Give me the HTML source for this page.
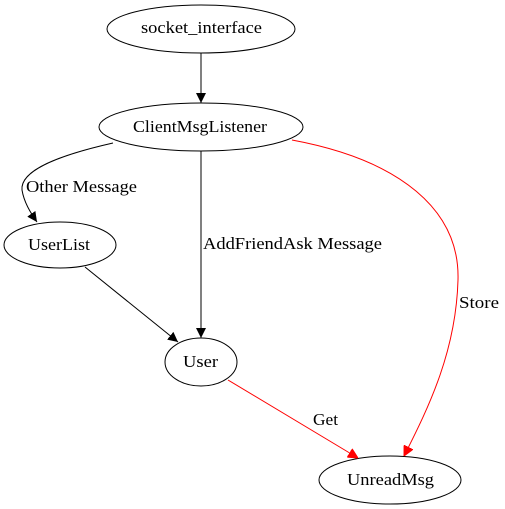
<!DOCTYPE html>
<html><head><meta charset="utf-8"><style>
html,body{margin:0;padding:0;background:#fff;}
svg{display:block;}
text{font-family:"Liberation Serif",serif;font-size:17px;fill:#000;}
</style></head><body>
<svg width="505" height="509" viewBox="0 0 505 509" xmlns="http://www.w3.org/2000/svg">
<defs>
<marker id="ab" markerWidth="10" markerHeight="10" refX="10" refY="5" orient="auto" markerUnits="userSpaceOnUse"><path d="M0,0 L10,5 L0,10 z" fill="#000"/></marker>
<marker id="ar" markerWidth="10" markerHeight="10" refX="10" refY="5" orient="auto" markerUnits="userSpaceOnUse"><path d="M0,0 L10,5 L0,10 z" fill="red" stroke="red"/></marker>
</defs>
<g fill="none" stroke="#000" stroke-width="1">
<ellipse cx="201" cy="29" rx="94" ry="24"/>
<ellipse cx="201" cy="127" rx="102" ry="24"/>
<ellipse cx="60" cy="245" rx="56" ry="23"/>
<ellipse cx="201" cy="362" rx="36" ry="24"/>
<ellipse cx="390" cy="480" rx="71" ry="24"/>
<path d="M201,53 L201,103" marker-end="url(#ab)"/>
<path d="M113,143 C60,155 20,170 22,190 C24,202 30,212 37,222" marker-end="url(#ab)"/>
<path d="M201,151 L201,338" marker-end="url(#ab)"/>
<path d="M85,267 L178,342" marker-end="url(#ab)"/>
</g>
<g fill="none" stroke="red" stroke-width="1">
<path d="M292,140 C400,160 460,210 458,280 C456,350 430,405 404,456" marker-end="url(#ar)"/>
<path d="M228,380 L358,458" marker-end="url(#ar)"/>
</g>
<g>
<text x="141" y="33" textLength="121" lengthAdjust="spacingAndGlyphs">socket_interface</text>
<text x="133" y="132" textLength="134" lengthAdjust="spacingAndGlyphs">ClientMsgListener</text>
<text x="28" y="250" textLength="62" lengthAdjust="spacingAndGlyphs">UserList</text>
<text x="183" y="367" textLength="35" lengthAdjust="spacingAndGlyphs">User</text>
<text x="347" y="485" textLength="87" lengthAdjust="spacingAndGlyphs">UnreadMsg</text>
<text x="26" y="192" textLength="111" lengthAdjust="spacingAndGlyphs">Other Message</text>
<text x="203" y="249" textLength="179" lengthAdjust="spacingAndGlyphs">AddFriendAsk Message</text>
<text x="459" y="308" textLength="40" lengthAdjust="spacingAndGlyphs">Store</text>
<text x="313" y="425" textLength="25" lengthAdjust="spacingAndGlyphs">Get</text>
</g>
</svg>
</body></html>
